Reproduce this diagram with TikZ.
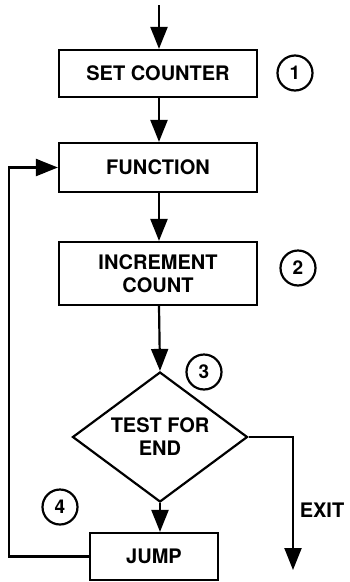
\documentclass[tikz,border=0pt]{standalone}
\usepackage{fontspec}
\setmainfont{TeX Gyre Heros}
\usetikzlibrary{arrows.meta,positioning,shapes.geometric}

\begin{document}
\begin{tikzpicture}[
  x=1pt, y=-1pt,
  line width=2.2pt,
  flow/.style={-{Triangle[length=22pt, width=17pt]}},
  box/.style={draw, rectangle, minimum width=198pt, inner sep=0pt,
    font=\fontsize{20}{23}\selectfont\bfseries, align=center},
  test/.style={draw, diamond, aspect=1.34, inner sep=0pt,
    minimum width=175pt, minimum height=130pt,
    font=\fontsize{20}{23}\selectfont\bfseries, align=center},
  num/.style={draw, circle, minimum size=35pt, inner sep=0pt,
    font=\fontsize{19}{19}\selectfont\bfseries},
  lbl/.style={font=\fontsize{20}{23}\selectfont\bfseries}
]
  \useasboundingbox (0,0) rectangle (350,582);

  % boxes
  \coordinate (start) at (159,5);
  \node[box, minimum height=47pt] (setcounter) at (158,73.5) {SET COUNTER};
  \node[box, minimum height=49pt] (function) at (158,167.5) {FUNCTION};
  \node[box, minimum height=63pt] (increment) at (158,273.5) {INCREMENT\\COUNT};
  \node[test] (endtest) at (160,437) {TEST FOR\\END};
  \node[box, minimum width=128pt, minimum height=47pt] (jump) at (154,556.5) {JUMP};
  \coordinate (exitend) at (293,570);

  % step numbers
  \node[num] (n1) at (295,73) {1};
  \node[num] (n2) at (298,268) {2};
  \node[num] (n3) at (204,372) {3};
  \node[num] (n4) at (60,507) {4};
  \node[lbl] (exit) at (322,510) {EXIT};

  % connectors
  \draw[flow] (start) -- (setcounter.north -| start);
  \draw[flow] (setcounter.south -| start) -- (function.north -| start);
  \draw[flow] (function.south -| start) -- (increment.north -| start);
  \draw[flow] (increment.south -| start) -- (endtest.north);
  \draw[flow] (endtest.south) -- (endtest.south |- jump.north);
  \draw[flow] (endtest.east) -| (exitend);
  \draw[flow] (jump.west) -- ++(-80,0) |- (function.west);
\end{tikzpicture}
\end{document}
